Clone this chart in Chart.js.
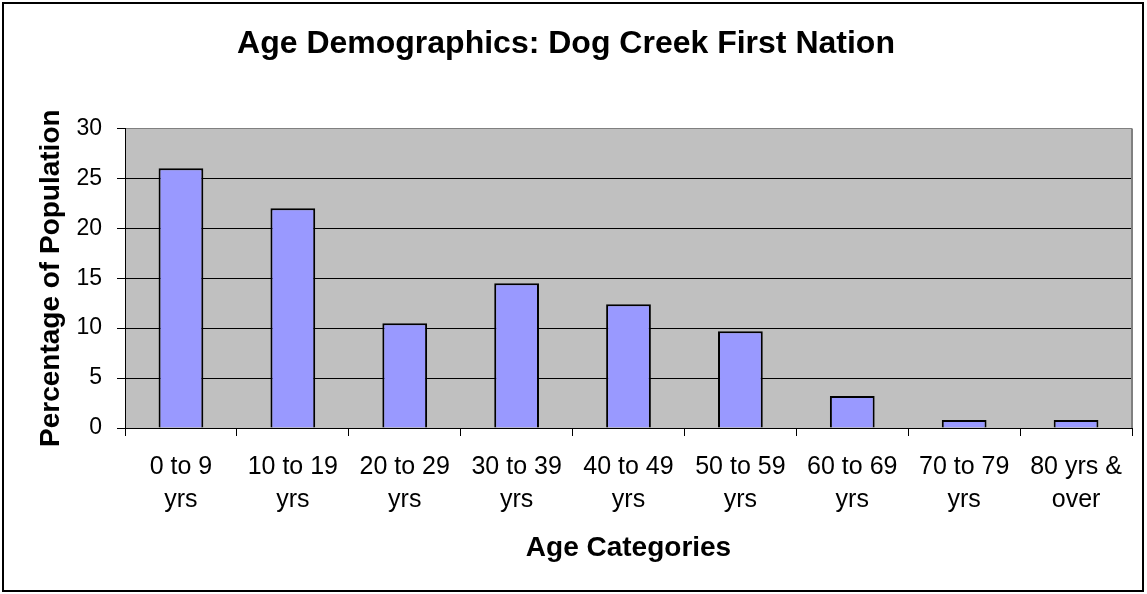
<!DOCTYPE html>
<html>
<head>
<meta charset="utf-8">
<title>Age Demographics: Dog Creek First Nation</title>
<script src="https://cdn.jsdelivr.net/npm/chart.js@4.4.0/dist/chart.umd.min.js"></script>
<style>
  html, body { margin: 0; padding: 0; background: #fff; }
  canvas { display: block; }
</style>
</head>
<body>
<canvas id="age-chart" width="1147" height="594"></canvas>
<script>
// chart data
const chartTitle = "Age Demographics: Dog Creek First Nation";
const categories = [
  ["0 to 9", "yrs"],
  ["10 to 19", "yrs"],
  ["20 to 29", "yrs"],
  ["30 to 39", "yrs"],
  ["40 to 49", "yrs"],
  ["50 to 59", "yrs"],
  ["60 to 69", "yrs"],
  ["70 to 79", "yrs"],
  ["80 yrs &", "over"],
];
const percentages = [26.0, 22.0, 10.5, 14.5, 12.4, 9.7, 3.2, 0.8, 0.8];
const yMin = 0;
const yMax = 30;
const yStep = 5;
const xAxisTitle = "Age Categories";
const yAxisTitle = "Percentage of Population";

const FONT = "'Liberation Sans', Arial, sans-serif";
const PLOT_BG = "#c0c0c0";
const BAR_FILL = "#9999ff";

Chart.defaults.font.family = FONT;
Chart.defaults.color = "#000";

// white page, outer frame, grey plot area and its grey right edge
const excelFrame = {
  id: "excelFrame",
  beforeDraw(chart) {
    const { ctx, chartArea: a } = chart;
    ctx.save();
    ctx.fillStyle = "#fff";
    ctx.fillRect(0, 0, chart.width, chart.height);
    ctx.strokeStyle = "#000";
    ctx.lineWidth = 2;
    ctx.strokeRect(3, 3, chart.width - 7, chart.height - 6);
    ctx.fillStyle = PLOT_BG;
    ctx.fillRect(a.left, a.top, a.right - a.left, a.bottom - a.top);
    ctx.restore();
  },
  afterDraw(chart) {
    const { ctx, chartArea: a } = chart;
    ctx.save();
    ctx.strokeStyle = "#808080";
    ctx.lineWidth = 2;
    ctx.beginPath();
    ctx.moveTo(a.right, a.top);
    ctx.lineTo(a.right, a.bottom);
    ctx.stroke();
    ctx.restore();
  },
};

new Chart(document.getElementById("age-chart"), {
  type: "bar",
  data: {
    labels: categories,
    datasets: [
      {
        data: percentages,
        backgroundColor: BAR_FILL,
        borderColor: "#000",
        borderWidth: 2,
        barPercentage: 0.4,
        categoryPercentage: 1,
      },
    ],
  },
  plugins: [excelFrame],
  options: {
    responsive: false,
    animation: false,
    layout: { padding: { left: 0, right: 15, top: 0, bottom: 0 } },
    plugins: {
      legend: { display: false },
      tooltip: { enabled: false },
      title: {
        display: true,
        text: chartTitle,
        color: "#000",
        font: { family: FONT, size: 32, weight: "bold" },
        padding: { top: 25, bottom: 65 },
      },
    },
    scales: {
      x: {
        afterFit: (scale) => {
          scale.height = 166;
        },
        grid: {
          offset: true,
          drawOnChartArea: false,
          drawTicks: true,
          tickLength: 8,
          tickColor: "#000",
        },
        border: { display: true, color: "#000", width: 1 },
        ticks: {
          autoSkip: false,
          maxRotation: 0,
          minRotation: 0,
          padding: 14,
          color: "#000",
          font: { family: FONT, size: 25, lineHeight: 1.34 },
        },
        title: {
          display: true,
          text: xAxisTitle,
          color: "#000",
          font: { family: FONT, size: 28, weight: "bold" },
          padding: { top: 0, bottom: 29 },
        },
      },
      y: {
        min: yMin,
        max: yMax,
        afterFit: (scale) => {
          scale.width = 125;
        },
        grid: {
          color: (ctx) => (ctx.tick && ctx.tick.value === yMax ? "#808080" : "#000"),
          lineWidth: 1,
          tickLength: 8,
          tickColor: "#000",
        },
        border: { display: true, color: "#000", width: 1 },
        ticks: {
          stepSize: yStep,
          padding: 15,
          color: "#000",
          font: { family: FONT, size: 23 },
        },
        title: {
          display: true,
          text: yAxisTitle,
          color: "#000",
          font: { family: FONT, size: 28, weight: "bold" },
          padding: { top: 34, bottom: 0 },
        },
      },
    },
  },
});
</script>
</body>
</html>
